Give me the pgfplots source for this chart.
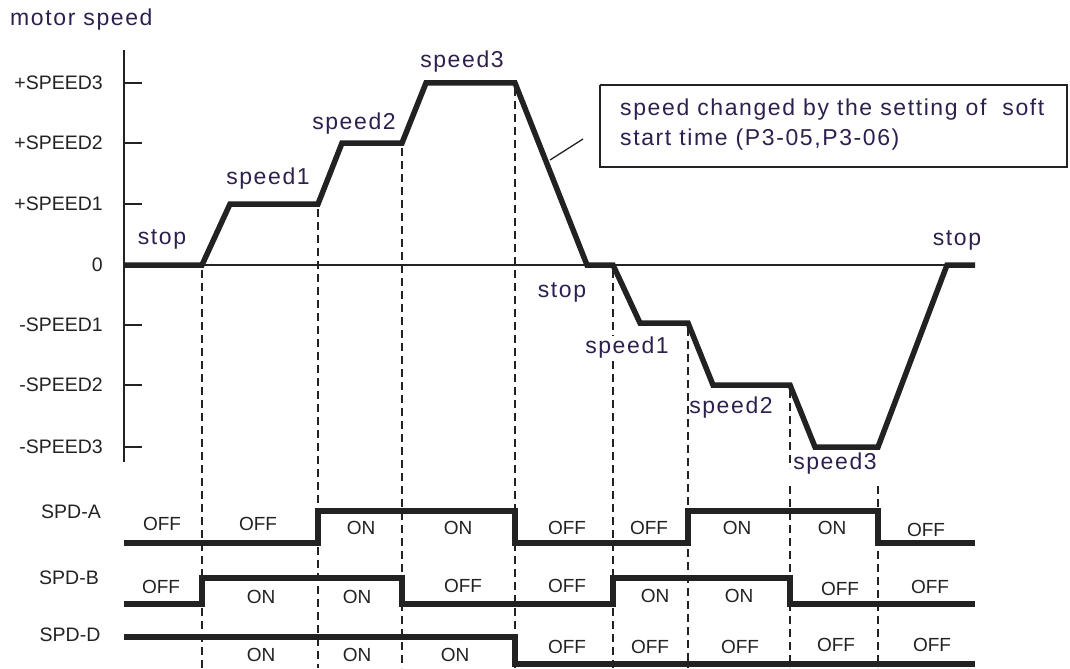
\documentclass[border=0pt]{standalone}
\usepackage{pgfplots}
\pgfplotsset{compat=1.18}
\usepackage{fontspec}
\setmainfont{Liberation Sans}
\newfontfamily\widefont[LetterSpace=7]{Liberation Sans}
\definecolor{ink}{RGB}{34,34,34}
\definecolor{labelink}{RGB}{46,32,78}

\tikzset{
  axline/.style={ink, line width=1.5bp},
  guide/.style={ink, line width=1.4bp, dash pattern=on 8bp off 5bp},
  wave/.style={ink, line width=5.5bp, line join=miter, line cap=butt},
  lvl/.style={font=\fontsize{19.5bp}{22bp}\selectfont, text=ink, inner sep=0pt},
  sw/.style={font=\fontsize{19bp}{22bp}\selectfont, text=ink, inner sep=0pt},
  lab/.style={font=\widefont\fontsize{23bp}{27bp}\selectfont, text=labelink, inner sep=1pt},
}

\begin{document}
\begin{tikzpicture}
\begin{axis}[
  width=1070bp, height=668bp, scale only axis,
  xmin=0, xmax=1070, ymin=0, ymax=668, y dir=reverse,
  hide axis, clip=false,
]
% page frame
\addplot[draw=none] coordinates {(0,0) (1070,668)};

% vertical speed axis, ticks and zero line
\addplot[axline] coordinates {(124,50) (124,462)};
\addplot[axline] coordinates {(124,83) (142,83)};
\addplot[axline] coordinates {(124,143) (142,143)};
\addplot[axline] coordinates {(124,204) (142,204)};
\addplot[axline] coordinates {(124,325) (142,325)};
\addplot[axline] coordinates {(124,385) (142,385)};
\addplot[axline] coordinates {(124,447) (142,447)};
\addplot[ink, line width=1.3bp] coordinates {(124,265) (975,265)};

% switching instants
\addplot[guide] coordinates {(202,270) (202,668)};
\addplot[guide] coordinates {(318,209) (318,668)};
\addplot[guide] coordinates {(402,148) (402,668)};
\addplot[guide] coordinates {(515,88) (515,668)};
\addplot[guide] coordinates {(613,270) (613,668)};
\addplot[guide] coordinates {(688,328) (688,668)};
\addplot[guide] coordinates {(790,390) (790,468)};
\addplot[guide] coordinates {(790,486) (790,668)};
\addplot[guide] coordinates {(878,486) (878,668)};

% motor speed profile
\addplot[wave] coordinates {
  (124,265) (202,265) (230,204) (318,204) (342,143) (402,143)
  (426,83) (515,83) (587,265) (613,265) (640,323) (688,323)
  (713,385) (790,385) (815,447) (878,447) (947,265) (975,265)};

% annotation box and leader
\addplot[ink, line width=1.5bp] coordinates {(600,85) (1067,85) (1067,167) (600,167) (600,85)};
\addplot[ink, line width=1.3bp] coordinates {(550,160) (583,139)};

% SPD-A, SPD-B, SPD-D inputs
\addplot[wave, line width=6bp] coordinates {
  (124,543) (318,543) (318,511) (515,511) (515,543) (688,543)
  (688,511) (878,511) (878,543) (975,543)};
\addplot[wave, line width=6bp] coordinates {
  (124,604) (202,604) (202,578) (402,578) (402,604) (613,604)
  (613,578) (790,578) (790,604) (975,604)};
\addplot[wave, line width=6bp] coordinates {
  (124,637) (515,637) (515,664) (975,664)};

% texts
\node[lab, anchor=west] at (axis cs:9,20) {motor speed};
\node[lvl, anchor=east] at (axis cs:103,83) {+SPEED3};
\node[lvl, anchor=east] at (axis cs:103,143) {+SPEED2};
\node[lvl, anchor=east] at (axis cs:103,204) {+SPEED1};
\node[lvl, anchor=east] at (axis cs:103,265) {0};
\node[lvl, anchor=east] at (axis cs:103,325) {-SPEED1};
\node[lvl, anchor=east] at (axis cs:103,385) {-SPEED2};
\node[lvl, anchor=east] at (axis cs:103,447) {-SPEED3};

\node[lab] at (axis cs:162,239) {stop};
\node[lab] at (axis cs:268,179) {speed1};
\node[lab] at (axis cs:354,124) {speed2};
\node[lab] at (axis cs:462,62) {speed3};
\node[lab] at (axis cs:562,292) {stop};
\node[lab, fill=white] at (axis cs:627,348) {speed1};
\node[lab] at (axis cs:731,408) {speed2};
\node[lab] at (axis cs:835,464) {speed3};
\node[lab] at (axis cs:957,240) {stop};

\node[lab, anchor=west] at (axis cs:619,110) {speed changed by the setting of~ soft};
\node[lab, anchor=west] at (axis cs:619,140) {start time (P3-05,P3-06)};

\node[lvl] at (axis cs:71,512) {SPD-A};
\node[lvl] at (axis cs:69,578) {SPD-B};
\node[lvl] at (axis cs:70,635) {SPD-D};

\node[sw] at (axis cs:162,524) {OFF};
\node[sw] at (axis cs:258,524) {OFF};
\node[sw] at (axis cs:361,528) {ON};
\node[sw] at (axis cs:458,528) {ON};
\node[sw] at (axis cs:567,528) {OFF};
\node[sw] at (axis cs:649,528) {OFF};
\node[sw] at (axis cs:737,528) {ON};
\node[sw] at (axis cs:832,528) {ON};
\node[sw] at (axis cs:926,530) {OFF};

\node[sw] at (axis cs:161,587) {OFF};
\node[sw] at (axis cs:261,597) {ON};
\node[sw] at (axis cs:357,597) {ON};
\node[sw] at (axis cs:463,586) {OFF};
\node[sw] at (axis cs:567,586) {OFF};
\node[sw] at (axis cs:655,596) {ON};
\node[sw] at (axis cs:739,596) {ON};
\node[sw] at (axis cs:840,589) {OFF};
\node[sw] at (axis cs:930,587) {OFF};

\node[sw] at (axis cs:261,655) {ON};
\node[sw] at (axis cs:357,655) {ON};
\node[sw] at (axis cs:455,655) {ON};
\node[sw] at (axis cs:567,647) {OFF};
\node[sw] at (axis cs:650,647) {OFF};
\node[sw] at (axis cs:740,647) {OFF};
\node[sw] at (axis cs:836,645) {OFF};
\node[sw] at (axis cs:932,645) {OFF};
\end{axis}
\end{tikzpicture}
\end{document}
